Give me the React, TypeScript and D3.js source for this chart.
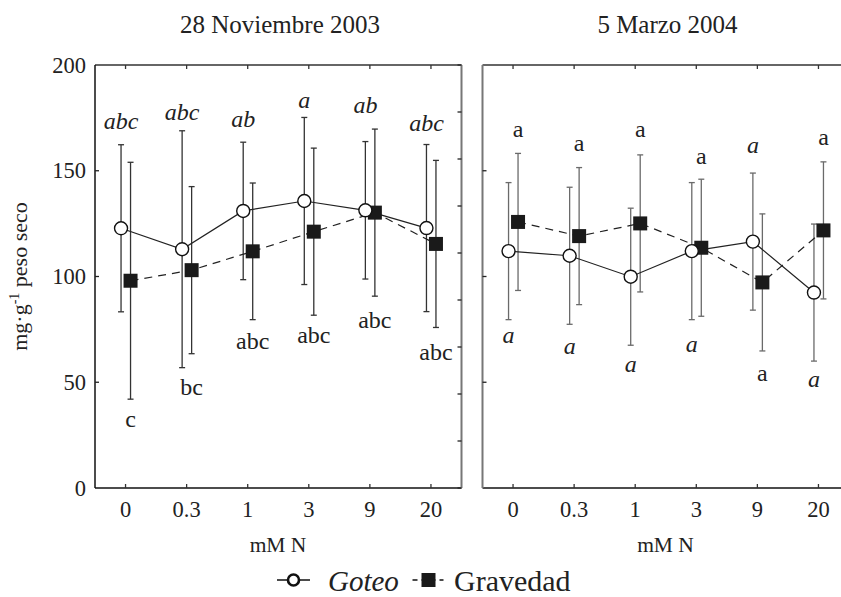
import * as d3 from "d3";

const categories = ["0", "0.3", "1", "3", "9", "20"];
const yTicks = [0, 50, 100, 150, 200];

// 28 Noviembre 2003
const novGoteo = [122.8, 112.9, 131, 135.7, 131.3, 122.9];
const novGoteoErr = [39.5, 56, 32.5, 39.5, 32.5, 39.5];
const novGravedad = [98, 103, 111.9, 121.2, 130.2, 115.4];
const novGravedadErr = [56, 39.5, 32.3, 39.5, 39.5, 39.5];
const novGoteoLetters = ["abc", "abc", "ab", "a", "ab", "abc"];
const novGoteoLetterAt = [169.7, 174, 170.5, 179.8, 177.4, 168.8];
const novGravedadLetters = ["c", "bc", "abc", "abc", "abc", "abc"];
const novGravedadLetterAt = [29, 44, 65.7, 68.7, 75.5, 60.5];

// 5 Marzo 2004
const marGoteo = [112, 109.8, 99.9, 112, 116.5, 92.4];
const marGoteoErr = [32.4, 32.4, 32.4, 32.4, 32.4, 32.4];
const marGravedad = [125.8, 119.1, 125.1, 113.6, 97.2, 121.8];
const marGravedadErr = [32.4, 32.4, 32.4, 32.4, 32.4, 32.4];
const marGoteoLetters = ["a", "a", "a", "a", "a", "a"];
const marGoteoLetterAt = [68.4, 63.2, 55, 64.4, 158.3, 47.9];
const marGravedadLetters = ["a", "a", "a", "a", "a", "a"];
const marGravedadLetterAt = [166.1, 159.5, 166.1, 153, 50.6, 162.2];

const W = 841;
const H = 597;
const top = 65;
const bottom = 488;
const panelW = 366.5;
const font = "'Liberation Serif', 'Times New Roman', serif";

const y = d3.scaleLinear().domain([0, 200]).range([bottom, top]);

type Panel = {
  title: string;
  x0: number;
  goteo: number[];
  goteoErr: number[];
  gravedad: number[];
  gravedadErr: number[];
  goteoLetters: string[];
  goteoLetterAt: number[];
  gravedadLetters: string[];
  gravedadLetterAt: number[];
  showYLabels: boolean;
};

const panels: Panel[] = [
  {
    title: "28 Noviembre 2003",
    x0: 95,
    goteo: novGoteo,
    goteoErr: novGoteoErr,
    gravedad: novGravedad,
    gravedadErr: novGravedadErr,
    goteoLetters: novGoteoLetters,
    goteoLetterAt: novGoteoLetterAt,
    gravedadLetters: novGravedadLetters,
    gravedadLetterAt: novGravedadLetterAt,
    showYLabels: true,
  },
  {
    title: "5 Marzo 2004",
    x0: 482.5,
    goteo: marGoteo,
    goteoErr: marGoteoErr,
    gravedad: marGravedad,
    gravedadErr: marGravedadErr,
    goteoLetters: marGoteoLetters,
    goteoLetterAt: marGoteoLetterAt,
    gravedadLetters: marGravedadLetters,
    gravedadLetterAt: marGravedadLetterAt,
    showYLabels: false,
  },
];

const ErrorBar = ({ x, m, e, color }: { x: number; m: number; e: number; color: string }) => (
  <g stroke={color} strokeWidth={1.3}>
    <line x1={x} x2={x} y1={y(m - e)} y2={y(m + e)} />
    <line x1={x - 3} x2={x + 3} y1={y(m - e)} y2={y(m - e)} />
    <line x1={x - 3} x2={x + 3} y1={y(m + e)} y2={y(m + e)} />
  </g>
);

const PanelView = ({ p, index }: { p: Panel; index: number }) => {
  const x = d3.scaleBand().domain(categories).range([p.x0, p.x0 + panelW]).padding(0);
  const cx = (c: string) => (x(c) as number) + x.bandwidth() / 2;
  const gx = (c: string) => cx(c) - 4.5;
  const sx = (c: string) => cx(c) + 5;
  const x1 = p.x0 + panelW;
  const goteoLine = d3
    .line<number>()
    .x((_, i) => gx(categories[i]))
    .y((d) => y(d));
  const gravLine = d3
    .line<number>()
    .x((_, i) => sx(categories[i]))
    .y((d) => y(d));
  const rightTicks = d3.range(10).map((i) => top + ((bottom - top) * i) / 9);
  const barColor = index === 0 ? "#333" : "#6a6a6a";

  return (
    <g>
      {/* frame */}
      <line x1={p.x0} x2={x1} y1={top} y2={top} stroke="#333" strokeWidth={1.3} />
      <line x1={p.x0} x2={x1} y1={bottom} y2={bottom} stroke="#111" strokeWidth={1.5} />
      <line
        x1={p.x0}
        x2={p.x0}
        y1={top}
        y2={bottom}
        stroke={index === 0 ? "#111" : "#777"}
        strokeWidth={index === 0 ? 1.5 : 2}
      />
      {index === 0 && (
        <g>
          <line x1={x1} x2={x1} y1={top} y2={bottom} stroke="#777" strokeWidth={2} />
          {rightTicks.map((t, i) => (
            <line key={i} x1={x1 - 4} x2={x1} y1={t} y2={t} stroke="#222" strokeWidth={1.3} />
          ))}
        </g>
      )}
      {yTicks.slice(1, -1).map((t) => (
        <line key={t} x1={p.x0} x2={p.x0 + 4} y1={y(t)} y2={y(t)} stroke="#222" strokeWidth={1.3} />
      ))}
      {categories.map((c) => (
        <g key={c} stroke="#333" strokeWidth={1.3}>
          <line x1={cx(c)} x2={cx(c)} y1={top} y2={top + 4} />
          <line x1={cx(c)} x2={cx(c)} y1={bottom} y2={bottom - 4} />
        </g>
      ))}
      {/* tick labels */}
      {p.showYLabels &&
        yTicks.map((t) => (
          <text key={t} x={p.x0 - 9} y={y(t) + 7.5} textAnchor="end" fontSize={22.5} fill="#222">
            {t}
          </text>
        ))}
      {categories.map((c) => (
        <text key={c} x={cx(c)} y={517} textAnchor="middle" fontSize={22.5} fill="#222">
          {c}
        </text>
      ))}
      <text x={p.x0 + 183} y={552} textAnchor="middle" fontSize={21.5} fill="#222">
        mM N
      </text>
      <text x={p.x0 + 185} y={33} textAnchor="middle" fontSize={25} fill="#222">
        {p.title}
      </text>
      {/* error bars */}
      {categories.map((c, i) => (
        <g key={c}>
          <ErrorBar x={gx(c)} m={p.goteo[i]} e={p.goteoErr[i]} color={barColor} />
          <ErrorBar x={sx(c)} m={p.gravedad[i]} e={p.gravedadErr[i]} color={barColor} />
        </g>
      ))}
      {/* lines */}
      <path d={goteoLine(p.goteo) as string} fill="none" stroke="#222" strokeWidth={1.2} />
      <path
        d={gravLine(p.gravedad) as string}
        fill="none"
        stroke="#222"
        strokeWidth={1.2}
        strokeDasharray="8,6"
      />
      {/* markers */}
      {categories.map((c, i) => (
        <rect
          key={"s" + c}
          x={sx(c) - 7}
          y={y(p.gravedad[i]) - 7}
          width={14}
          height={14}
          fill="#1a1a1a"
        />
      ))}
      {categories.map((c, i) => (
        <circle
          key={"c" + c}
          cx={gx(c)}
          cy={y(p.goteo[i])}
          r={6.5}
          fill="#fff"
          stroke="#111"
          strokeWidth={1.4}
        />
      ))}
      {/* letters */}
      {categories.map((c, i) => (
        <text
          key={"lg" + c}
          x={gx(c)}
          y={y(p.goteoLetterAt[i])}
          textAnchor="middle"
          fontSize={24}
          fontStyle="italic"
          fill="#222"
        >
          {p.goteoLetters[i]}
        </text>
      ))}
      {categories.map((c, i) => (
        <text
          key={"ls" + c}
          x={sx(c)}
          y={y(p.gravedadLetterAt[i])}
          textAnchor="middle"
          fontSize={24}
          fill="#222"
        >
          {p.gravedadLetters[i]}
        </text>
      ))}
    </g>
  );
};

export default function App() {
  return (
    <svg
      width={W}
      height={H}
      style={{ position: "absolute", left: 0, top: 0, background: "#fff" }}
      fontFamily={font}
    >
      {panels.map((p, i) => (
        <PanelView key={p.title} p={p} index={i} />
      ))}
      <text
        transform={`translate(27, ${(top + bottom) / 2}) rotate(-90)`}
        textAnchor="middle"
        fontSize={22}
        fill="#222"
      >
        mg·g
        <tspan dy={-8} fontSize={14}>
          -1
        </tspan>
        <tspan dy={8}> peso seco</tspan>
      </text>
      {/* legend */}
      <g>
        <line x1={277} x2={310} y1={580} y2={580} stroke="#111" strokeWidth={1.5} />
        <circle cx={293.5} cy={580} r={5.5} fill="#fff" stroke="#111" strokeWidth={2.6} />
        <text x={328} y={591} fontSize={29} fontStyle="italic" fill="#222">
          Goteo
        </text>
        <line x1={412.5} x2={443.5} y1={580} y2={580} stroke="#111" strokeWidth={1.5} strokeDasharray="5,4" />
        <rect x={421.5} y={573} width={14} height={14} fill="#1a1a1a" />
        <text x={454} y={591} fontSize={30} fill="#222">
          Gravedad
        </text>
      </g>
    </svg>
  );
}
